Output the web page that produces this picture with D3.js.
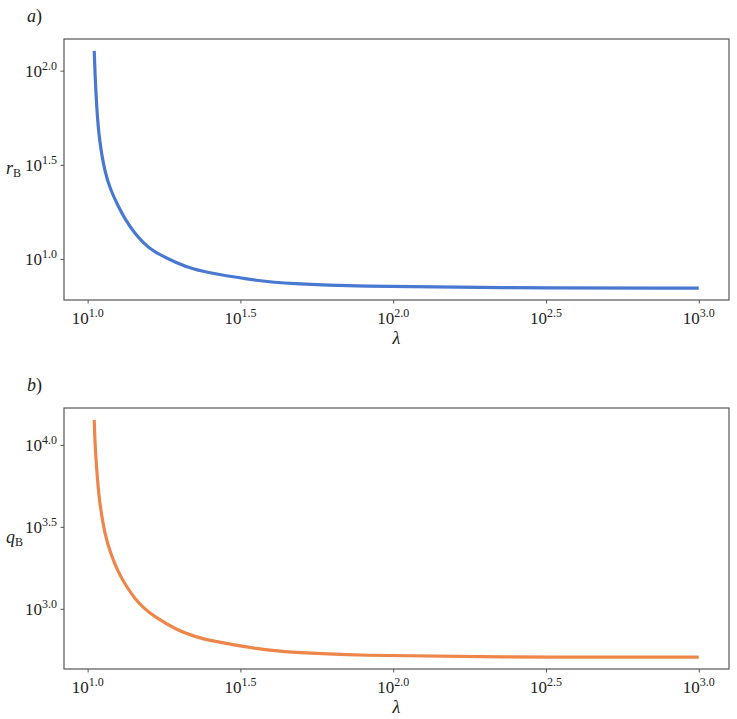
<!DOCTYPE html>
<html>
<head>
<meta charset="utf-8">
<script src="https://cdn.jsdelivr.net/npm/d3@7"></script>
<style>
  body { margin: 0; background: #fff; }
</style>
</head>
<body>
<div id="viz"></div>
<script>
// values (log-log plot)
var lambda = [10.51, 10.57, 10.70, 10.91, 11.39, 11.89, 12.59, 13.34, 14.28, 15.28, 16.39, 19.54, 22.42, 25.09, 36.57, 45.8, 75.7, 206.4, 1000];
var rB = [127.4, 97.0, 64.5, 42.9, 28.7, 23.3, 19.0, 15.99, 13.64, 12.08, 10.97, 9.52, 8.78, 8.43, 7.62, 7.40, 7.15, 7.02, 7.00];
var qB = [14220, 10230, 7230, 4530, 2830, 2178, 1670, 1388, 1150, 1009, 905, 743, 677, 640, 565, 542, 519, 507, 507];

var xTickExp = ["1.0", "1.5", "2.0", "2.5", "3.0"];
var rTickExp = ["1.0", "1.5", "2.0"];
var qTickExp = ["3.0", "3.5", "4.0"];

var width = 737, height = 719;
var left = 64, right = 729;
var serif = "'Liberation Serif', 'DejaVu Serif', 'Times New Roman', serif";

var panels = [
    { tag: "a", ys: rB, ticks: rTickExp, sym: "r", color: "#4878d0", top: 39, bottom: 300 },
    { tag: "b", ys: qB, ticks: qTickExp, sym: "q", color: "#ee854a", top: 408, bottom: 669 }
];

var svg = d3.select("#viz").append("svg")
    .attr("width", width)
    .attr("height", height)
    .attr("font-family", serif);

// matplotlib-like 5% margins, in log space
function padDomain(vals) {
    var lo = Math.log10(d3.min(vals)), hi = Math.log10(d3.max(vals));
    var m = (hi - lo) * 0.05;
    return [Math.pow(10, lo - m), Math.pow(10, hi + m)];
}

var x = d3.scaleLog().domain(padDomain(lambda)).range([left, right]);

function addText(g) {
    return g.append("text").attr("font-family", serif).style("fill", "#222");
}

function powLabel(sel, exp) {
    sel.append("tspan").attr("font-size", 17).text("10");
    sel.append("tspan").attr("font-size", 12).attr("dy", -6.5).text(exp);
}

panels.forEach(function(p) {
    var y = d3.scaleLog().domain(padDomain(p.ys)).range([p.bottom, p.top]);
    var g = svg.append("g");

    // frame
    g.append("rect")
        .attr("x", left)
        .attr("y", p.top)
        .attr("width", right - left)
        .attr("height", p.bottom - p.top)
        .style("fill", "none")
        .style("stroke", "#555")
        .style("stroke-width", 1.2);

    // x axis
    var xAxis = d3.axisBottom(x)
        .tickValues(xTickExp.map(function(e) { return Math.pow(10, +e); }))
        .tickSize(3.5)
        .tickFormat("");
    var gx = g.append("g").attr("transform", "translate(0," + p.bottom + ")").call(xAxis);
    gx.select(".domain").remove();
    gx.selectAll(".tick line").style("stroke", "#555");
    xTickExp.forEach(function(e) {
        var t = addText(g)
            .attr("x", x(Math.pow(10, +e)))
            .attr("y", p.bottom + 23.5)
            .attr("text-anchor", "middle");
        powLabel(t, e);
    });

    // y axis
    var yAxis = d3.axisLeft(y)
        .tickValues(p.ticks.map(function(e) { return Math.pow(10, +e); }))
        .tickSize(3.5)
        .tickFormat("");
    var gy = g.append("g").attr("transform", "translate(" + left + ",0)").call(yAxis);
    gy.select(".domain").remove();
    gy.selectAll(".tick line").style("stroke", "#555");
    p.ticks.forEach(function(e) {
        var t = addText(g)
            .attr("x", left - 7)
            .attr("y", y(Math.pow(10, +e)) + 6)
            .attr("text-anchor", "end");
        powLabel(t, e);
    });

    // curve
    var line = d3.line()
        .x(function(d, i) { return x(lambda[i]); })
        .y(function(d) { return y(d); })
        .curve(d3.curveBasis);
    g.append("path")
        .datum(p.ys)
        .attr("d", line)
        .style("fill", "none")
        .style("stroke", p.color)
        .style("stroke-width", 3.2);

    // axis labels
    addText(g)
        .attr("x", (left + right) / 2)
        .attr("y", p.bottom + 44)
        .attr("text-anchor", "middle")
        .style("font-style", "italic")
        .attr("font-size", 18)
        .text("λ");

    var yl = addText(g)
        .attr("x", 6)
        .attr("y", (p.top + p.bottom) / 2 + 4);
    yl.append("tspan").style("font-style", "italic").attr("font-size", 18).text(p.sym);
    yl.append("tspan").attr("font-size", 12).attr("dy", 3).text("B");

    // panel tag
    var tg = addText(g)
        .attr("x", 27)
        .attr("y", p.top - 17);
    tg.append("tspan").style("font-style", "italic").attr("font-size", 18).text(p.tag);
    tg.append("tspan").attr("font-size", 18).text(")");
});
</script>
</body>
</html>
